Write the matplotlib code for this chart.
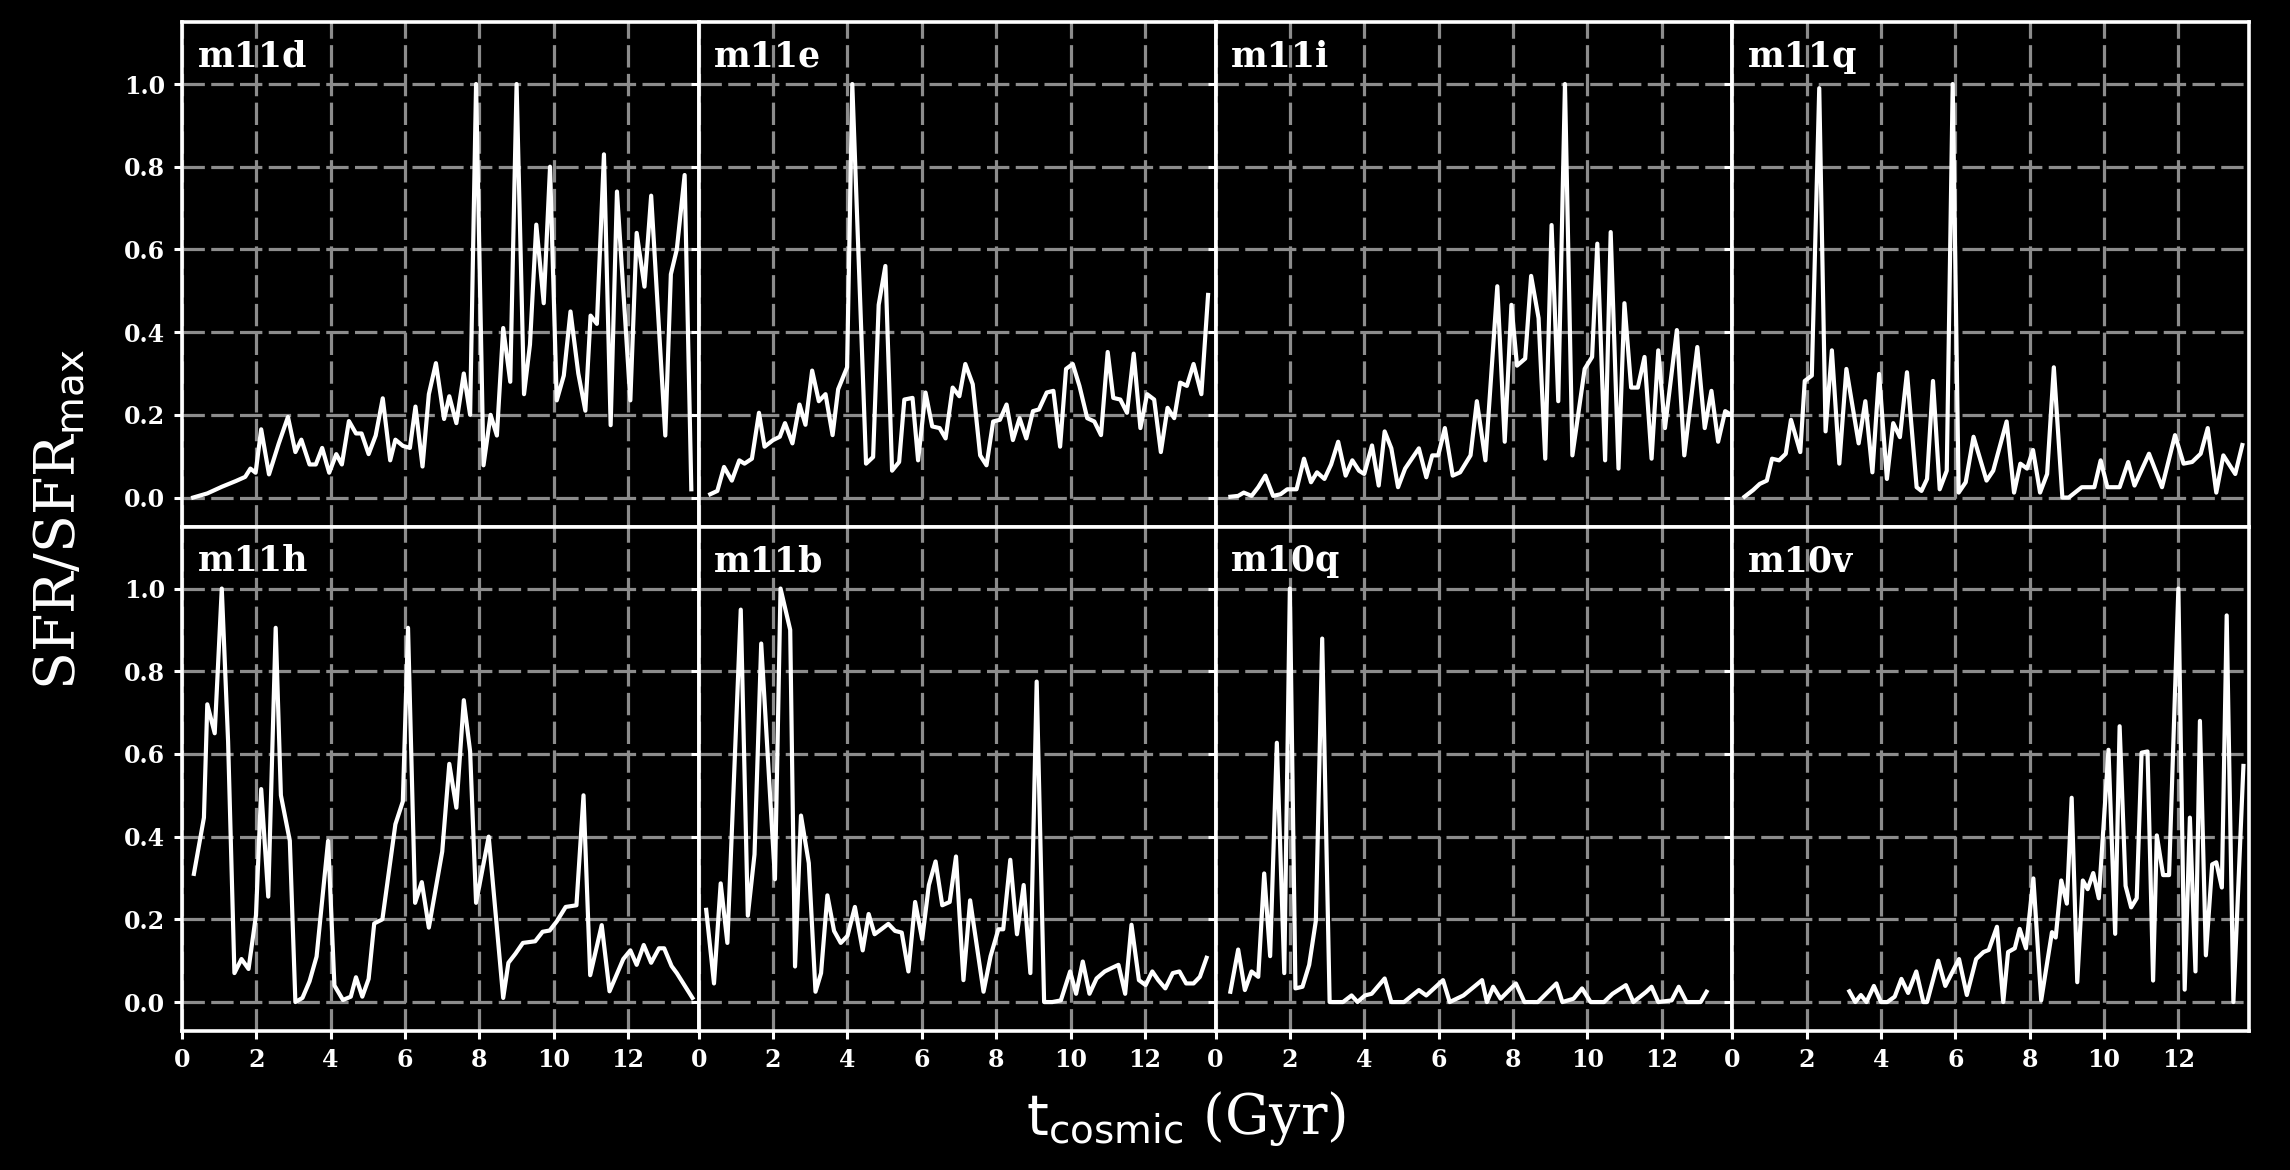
import matplotlib
matplotlib.use("Agg")
import matplotlib.pyplot as plt

# --- data (t in Gyr, SFR normalised to its max) ---
names = ["m11d", "m11e", "m11i", "m11q", "m11h", "m11b", "m10q", "m10v"]

t_m11d = [0.3, 0.68, 1.07, 1.45, 1.7, 1.84, 1.98, 2.13, 2.34, 2.6, 2.85, 3.05, 3.21, 3.43, 3.6, 3.77,
          3.96, 4.15, 4.3, 4.49, 4.68, 4.83, 5.02, 5.21, 5.4, 5.6, 5.74, 5.94, 6.13, 6.28, 6.47, 6.64,
          6.83, 7.05, 7.19, 7.38, 7.58, 7.75, 7.91, 8.11, 8.3, 8.47, 8.64, 8.83, 9.0, 9.2, 9.36, 9.53,
          9.73, 9.9, 10.08, 10.27, 10.45, 10.66, 10.85, 10.99, 11.16, 11.35, 11.53, 11.7, 12.06, 12.23,
          12.44, 12.62, 13.0, 13.15, 13.31, 13.52, 13.7]
sfr_m11d = [0.0, 0.01, 0.026, 0.04, 0.05, 0.07, 0.06, 0.165, 0.056, 0.13, 0.195, 0.11, 0.14, 0.08, 0.08,
            0.12, 0.06, 0.105, 0.08, 0.185, 0.155, 0.155, 0.105, 0.15, 0.24, 0.09, 0.14, 0.125, 0.12,
            0.22, 0.075, 0.25, 0.325, 0.19, 0.245, 0.18, 0.3, 0.2, 1.0, 0.078, 0.2, 0.15, 0.41, 0.28,
            1.0, 0.25, 0.37, 0.66, 0.47, 0.8, 0.235, 0.295, 0.45, 0.3, 0.21, 0.44, 0.42, 0.83, 0.175,
            0.74, 0.235, 0.64, 0.51, 0.73, 0.15, 0.54, 0.6, 0.78, 0.02]

t_m11e = [0.31, 0.5, 0.68, 0.89, 1.09, 1.23, 1.43, 1.62, 1.77, 2.0, 2.18, 2.32, 2.52, 2.71, 2.87, 3.05,
          3.23, 3.41, 3.6, 3.75, 3.99, 4.13, 4.32, 4.5, 4.69, 4.84, 5.02, 5.2, 5.39, 5.53, 5.75, 5.9,
          6.1, 6.28, 6.48, 6.64, 6.83, 7.01, 7.17, 7.37, 7.57, 7.74, 7.92, 8.1, 8.28, 8.45, 8.63, 8.81,
          8.99, 9.15, 9.36, 9.54, 9.72, 9.88, 10.06, 10.24, 10.45, 10.64, 10.82, 11.0, 11.15, 11.34,
          11.52, 11.7, 11.88, 12.06, 12.25, 12.43, 12.61, 12.79, 12.95, 13.13, 13.31, 13.52, 13.7]
sfr_m11e = [0.008, 0.016, 0.074, 0.041, 0.09, 0.082, 0.094, 0.205, 0.123, 0.139, 0.147, 0.18, 0.131,
            0.225, 0.176, 0.307, 0.233, 0.25, 0.151, 0.262, 0.315, 1.0, 0.53, 0.082, 0.098, 0.466, 0.56,
            0.065, 0.086, 0.237, 0.241, 0.09, 0.254, 0.172, 0.168, 0.143, 0.266, 0.245, 0.323, 0.274,
            0.102, 0.078, 0.184, 0.188, 0.225, 0.139, 0.192, 0.143, 0.209, 0.213, 0.254, 0.258, 0.123,
            0.311, 0.323, 0.27, 0.192, 0.184, 0.151, 0.352, 0.241, 0.237, 0.205, 0.348, 0.168, 0.25,
            0.237, 0.11, 0.217, 0.192, 0.278, 0.27, 0.323, 0.25, 0.49]

t_m11i = [0.4, 0.61, 0.76, 0.97, 1.15, 1.34, 1.55, 1.75, 1.93, 2.18, 2.38, 2.57, 2.73, 2.93, 3.11, 3.3,
          3.5, 3.68, 3.86, 4.0, 4.21, 4.39, 4.55, 4.73, 4.91, 5.1, 5.47, 5.67, 5.83, 5.99, 6.17, 6.38,
          6.58, 6.86, 7.03, 7.26, 7.58, 7.78, 7.96, 8.11, 8.33, 8.49, 8.69, 8.87, 9.04, 9.22, 9.4, 9.6,
          9.93, 10.13, 10.27, 10.48, 10.63, 10.84, 11.0, 11.18, 11.36, 11.54, 11.73, 11.91, 12.09,
          12.41, 12.61, 12.96, 13.16, 13.34, 13.52, 13.71, 13.87]
sfr_m11i = [0.002, 0.004, 0.012, 0.004, 0.025, 0.053, 0.004, 0.008, 0.02, 0.02, 0.094, 0.037, 0.061,
            0.045, 0.08, 0.135, 0.053, 0.09, 0.065, 0.057, 0.126, 0.029, 0.16, 0.119, 0.025, 0.07,
            0.119, 0.049, 0.102, 0.102, 0.168, 0.053, 0.061, 0.102, 0.233, 0.09, 0.511, 0.135, 0.466,
            0.319, 0.336, 0.536, 0.434, 0.094, 0.659, 0.233, 1.0, 0.102, 0.311, 0.34, 0.614, 0.09,
            0.642, 0.07, 0.47, 0.266, 0.266, 0.34, 0.094, 0.356, 0.168, 0.405, 0.102, 0.364, 0.168,
            0.258, 0.135, 0.209, 0.2]

t_m11q = [0.33, 0.56, 0.74, 0.93, 1.07, 1.26, 1.44, 1.58, 1.83, 1.95, 2.14, 2.34, 2.51, 2.68, 2.88,
          3.07, 3.4, 3.58, 3.77, 3.95, 4.16, 4.33, 4.51, 4.7, 4.96, 5.09, 5.24, 5.4, 5.58, 5.77, 5.93,
          6.09, 6.28, 6.49, 6.84, 7.02, 7.38, 7.58, 7.75, 7.93, 8.09, 8.28, 8.47, 8.65, 8.88, 9.05,
          9.4, 9.74, 9.91, 10.09, 10.42, 10.65, 10.82, 11.21, 11.56, 11.91, 12.14, 12.37, 12.6,
          12.79, 13.02, 13.21, 13.53, 13.72]
sfr_m11q = [0.002, 0.018, 0.033, 0.041, 0.094, 0.09, 0.106, 0.188, 0.11, 0.282, 0.295, 0.99, 0.16,
            0.356, 0.082, 0.311, 0.131, 0.233, 0.061, 0.299, 0.045, 0.18, 0.146, 0.303, 0.025, 0.016,
            0.045, 0.282, 0.02, 0.065, 1.0, 0.012, 0.037, 0.147, 0.041, 0.065, 0.184, 0.012, 0.082,
            0.07, 0.115, 0.012, 0.057, 0.315, 0.0, 0.0, 0.025, 0.025, 0.09, 0.025, 0.025, 0.086,
            0.029, 0.106, 0.025, 0.151, 0.082, 0.086, 0.106, 0.168, 0.012, 0.102, 0.057, 0.127]

t_m11h = [0.32, 0.59, 0.68, 0.88, 1.07, 1.24, 1.41, 1.6, 1.79, 1.99, 2.13, 2.32, 2.52, 2.66, 2.9, 3.05,
          3.24, 3.43, 3.62, 3.93, 4.1, 4.33, 4.54, 4.68, 4.85, 5.02, 5.17, 5.39, 5.74, 5.94, 6.08,
          6.27, 6.45, 6.64, 7.0, 7.19, 7.38, 7.58, 7.75, 7.91, 8.25, 8.64, 8.78, 8.97, 9.17, 9.5, 9.7,
          9.89, 10.08, 10.32, 10.61, 10.8, 10.98, 11.29, 11.5, 11.87, 12.06, 12.23, 12.42, 12.62,
          12.83, 12.97, 13.17, 13.31, 13.73]
sfr_m11h = [0.31, 0.446, 0.72, 0.65, 1.0, 0.63, 0.07, 0.104, 0.08, 0.21, 0.515, 0.255, 0.905, 0.5,
            0.39, 0.0, 0.01, 0.05, 0.11, 0.39, 0.04, 0.005, 0.013, 0.06, 0.013, 0.056, 0.19, 0.2, 0.43,
            0.485, 0.905, 0.24, 0.29, 0.18, 0.364, 0.576, 0.47, 0.73, 0.606, 0.24, 0.4, 0.01, 0.095,
            0.117, 0.143, 0.147, 0.17, 0.173, 0.195, 0.23, 0.234, 0.5, 0.065, 0.186, 0.026, 0.104,
            0.125, 0.09, 0.138, 0.095, 0.13, 0.13, 0.087, 0.07, 0.01]

t_m11b = [0.2, 0.41, 0.59, 0.77, 1.13, 1.32, 1.5, 1.68, 2.05, 2.2, 2.46, 2.59, 2.75, 2.96, 3.14, 3.29,
          3.46, 3.64, 3.82, 4.0, 4.2, 4.41, 4.57, 4.73, 4.91, 5.1, 5.28, 5.46, 5.64, 5.82, 6.01, 6.19,
          6.37, 6.55, 6.75, 6.92, 7.12, 7.3, 7.46, 7.66, 7.85, 8.06, 8.19, 8.38, 8.56, 8.74, 8.92,
          9.09, 9.29, 9.51, 9.74, 9.99, 10.15, 10.33, 10.51, 10.7, 10.92, 11.1, 11.29, 11.47, 11.64,
          11.84, 12.02, 12.2, 12.36, 12.55, 12.75, 12.93, 13.11, 13.31, 13.48, 13.66]
sfr_m11b = [0.223, 0.045, 0.287, 0.143, 0.949, 0.209, 0.357, 0.867, 0.297, 1.0, 0.9, 0.086, 0.451,
            0.336, 0.025, 0.07, 0.258, 0.172, 0.143, 0.16, 0.23, 0.125, 0.213, 0.164, 0.176, 0.189,
            0.172, 0.168, 0.074, 0.242, 0.152, 0.283, 0.34, 0.234, 0.242, 0.352, 0.053, 0.246, 0.148,
            0.025, 0.111, 0.176, 0.176, 0.344, 0.164, 0.283, 0.07, 0.775, 0.0, 0.0, 0.004, 0.074,
            0.02, 0.098, 0.02, 0.057, 0.074, 0.082, 0.09, 0.02, 0.187, 0.053, 0.041, 0.074, 0.053,
            0.033, 0.07, 0.074, 0.045, 0.045, 0.061, 0.107]

t_m10q = [0.4, 0.61, 0.79, 0.97, 1.15, 1.31, 1.47, 1.65, 1.85, 2.0, 2.15, 2.34, 2.52, 2.7, 2.87, 3.07,
          3.43, 3.66, 3.82, 4.02, 4.2, 4.55, 4.73, 5.07, 5.47, 5.67, 6.12, 6.3, 6.67, 7.17, 7.3, 7.47,
          7.67, 8.08, 8.31, 8.67, 9.17, 9.33, 9.63, 9.86, 10.09, 10.45, 10.68, 11.04, 11.24, 11.59,
          11.73, 11.91, 12.27, 12.46, 12.67, 13.05, 13.21]
sfr_m10q = [0.025, 0.127, 0.029, 0.074, 0.061, 0.311, 0.111, 0.627, 0.07, 1.0, 0.033, 0.037, 0.09,
            0.197, 0.879, 0.0, 0.0, 0.016, 0.0, 0.016, 0.02, 0.057, 0.0, 0.0, 0.029, 0.016, 0.053, 0.0,
            0.016, 0.053, 0.0, 0.037, 0.008, 0.045, 0.0, 0.0, 0.045, 0.0, 0.008, 0.033, 0.0, 0.0, 0.02,
            0.041, 0.0, 0.025, 0.037, 0.0, 0.004, 0.037, 0.0, 0.0, 0.025]

t_m10v = [3.15, 3.31, 3.46, 3.61, 3.81, 4.0, 4.17, 4.37, 4.55, 4.73, 4.95, 5.14, 5.24, 5.54, 5.73, 5.9,
          6.1, 6.31, 6.56, 6.76, 6.9, 7.12, 7.29, 7.42, 7.6, 7.73, 7.9, 8.1, 8.31, 8.6, 8.7, 8.85, 9.0,
          9.13, 9.28, 9.43, 9.56, 9.71, 9.86, 10.12, 10.3, 10.42, 10.58, 10.73, 10.88, 11.01, 11.17,
          11.32, 11.42, 11.59, 11.75, 12.0, 12.17, 12.31, 12.46, 12.58, 12.74, 12.91, 13.02, 13.17,
          13.3, 13.48, 13.75]
sfr_m10v = [0.026, 0.0, 0.017, 0.0, 0.039, 0.0, 0.0, 0.013, 0.056, 0.022, 0.074, 0.0, 0.0, 0.1, 0.039,
            0.069, 0.104, 0.017, 0.104, 0.121, 0.126, 0.182, 0.0, 0.121, 0.13, 0.177, 0.13, 0.299,
            0.004, 0.169, 0.156, 0.294, 0.238, 0.494, 0.048, 0.294, 0.273, 0.312, 0.251, 0.61, 0.165,
            0.667, 0.281, 0.229, 0.251, 0.603, 0.606, 0.052, 0.403, 0.307, 0.307, 1.0, 0.03, 0.446,
            0.074, 0.68, 0.113, 0.333, 0.338, 0.277, 0.935, 0.0, 0.571]

series = {
    "m11d": (t_m11d, sfr_m11d), "m11e": (t_m11e, sfr_m11e),
    "m11i": (t_m11i, sfr_m11i), "m11q": (t_m11q, sfr_m11q),
    "m11h": (t_m11h, sfr_m11h), "m11b": (t_m11b, sfr_m11b),
    "m10q": (t_m10q, sfr_m10q), "m10v": (t_m10v, sfr_m10v),
}

plt.rcParams["font.family"] = ["DejaVu Serif"]
plt.rcParams["mathtext.fontset"] = "dejavusans"

fig, axes = plt.subplots(2, 4, figsize=(22.9, 11.7), dpi=100, sharex=True, sharey=True)
fig.patch.set_facecolor("black")
fig.subplots_adjust(left=182 / 2290, right=2249 / 2290, top=1 - 22 / 1170,
                    bottom=1 - 1031 / 1170, wspace=0, hspace=0)

for ax, name in zip(axes.flat, names):
    t, sfr = series[name]
    ax.set_facecolor("black")
    ax.plot(t, sfr, color="white", lw=3.0, zorder=3)
    ax.grid(True, color="#8c8c8c", lw=2.3, ls=(0, (7, 2)), zorder=1)
    for s in ax.spines.values():
        s.set_color("white")
        s.set_linewidth(2.6)
    ax.tick_params(colors="white", direction="out", length=6, width=2.2,
                   labelsize=17, pad=6)
    ax.text(0.03, 0.965, name, transform=ax.transAxes, color="white",
            fontsize=25, fontweight="bold", ha="left", va="top", zorder=4)

ax0 = axes[0, 0]
ax0.set_xlim(0, 13.9)
ax0.set_ylim(-0.07, 1.15)
ax0.set_xticks([0, 2, 4, 6, 8, 10, 12])
ax0.set_yticks([0.0, 0.2, 0.4, 0.6, 0.8, 1.0])

for ax in axes.flat:
    for lab in ax.get_xticklabels() + ax.get_yticklabels():
        lab.set_fontweight("bold")

fig.text(0.518, 0.0436, r"$\mathrm{t}_{\mathrm{cosmic}}$ (Gyr)", color="white",
         fontsize=40, ha="center", va="center")
fig.text(0.026, 0.556, r"SFR/SFR$_{\mathrm{max}}$", color="white",
         fontsize=40, ha="center", va="center", rotation=90)

fig.savefig("out.png", dpi=100, facecolor="black")
